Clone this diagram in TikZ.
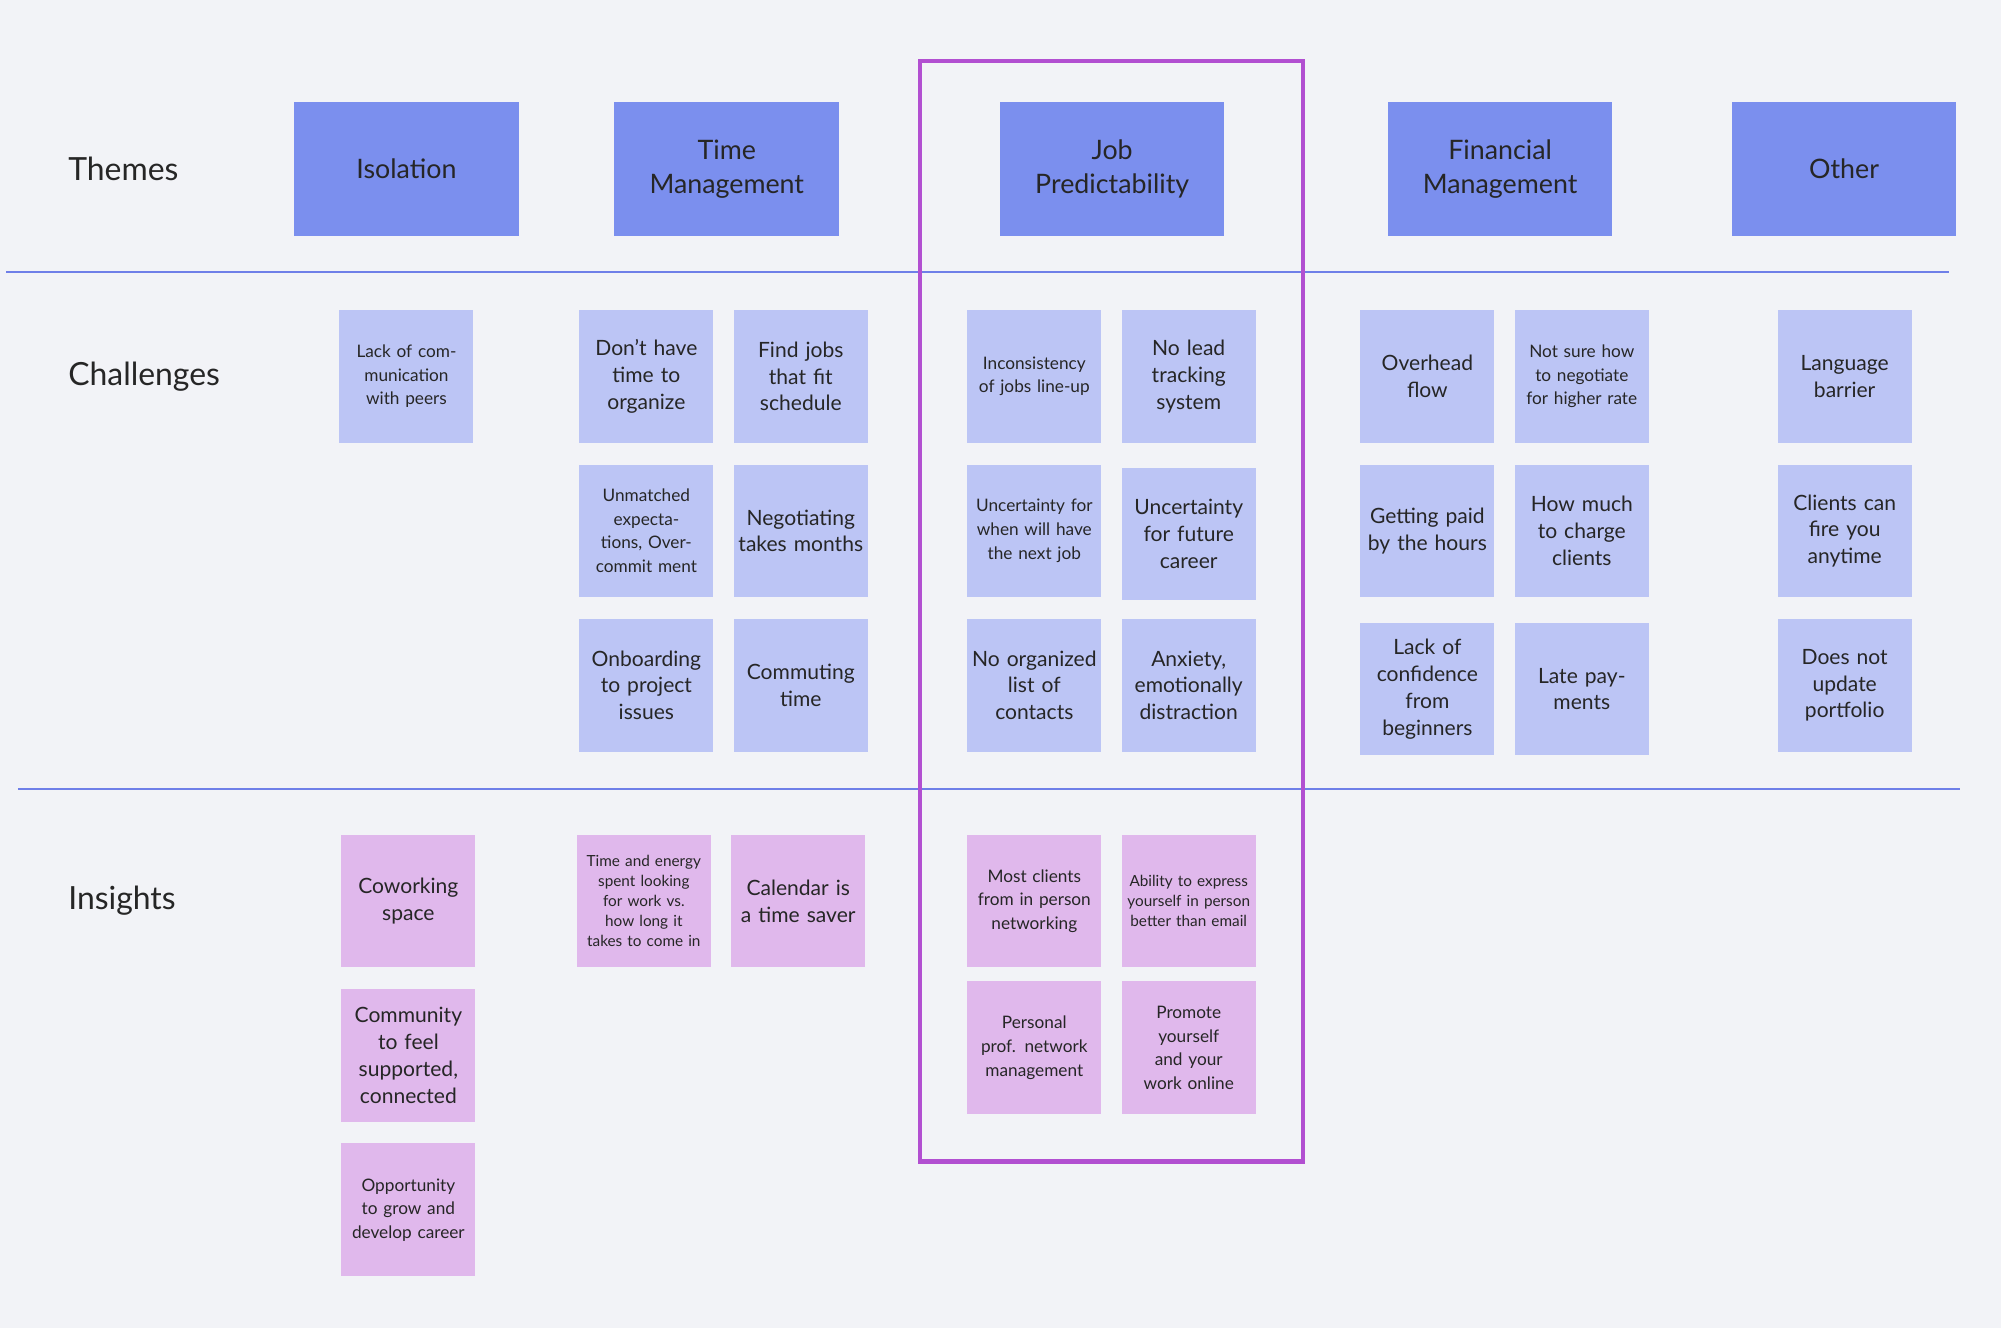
\documentclass[tikz,border=0pt]{standalone}
\usepackage{fontspec}
\setmainfont{Lato}
\definecolor{bg}{HTML}{F2F3F7}
\definecolor{hdr}{HTML}{7B8FEE}
\definecolor{chal}{HTML}{BCC5F5}
\definecolor{ins}{HTML}{E0B8EC}
\definecolor{rule}{HTML}{6F7FE8}
\definecolor{frame}{HTML}{B24FD1}
\tikzset{
 hbox/.style={fill=hdr,minimum width=176pt,minimum height=105pt,align=center,font=\fontsize{21}{27}\selectfont,text=black!85},
 cbox/.style={fill=chal,minimum width=105pt,minimum height=104pt,text width=98pt,inner sep=0pt,align=center,font=\fontsize{16.5}{21}\selectfont,text=black!85},
 ibox/.style={cbox,fill=ins},
 sm/.style={font=\fontsize{13.5}{18.5}\selectfont},
 xs/.style={font=\fontsize{12}{15.5}\selectfont},
 rowlab/.style={anchor=west,font=\fontsize{25}{30}\selectfont,text=black!85},
}
\begin{document}
\begin{tikzpicture}[x=1pt,y=-1pt]
\fill[bg] (0,0) rectangle (1568,1041);
\useasboundingbox (0,0) rectangle (1568,1041);
% rules
\coordinate (r1a) at (5,213); \coordinate (r1b) at (1527,213);
\coordinate (r2a) at (14,618); \coordinate (r2b) at (1536,618);
\draw[rule,line width=1.5pt] (r1a) -- (r1b);
\draw[rule,line width=1.5pt] (r2a) -- (r2b);
% row labels
\node[rowlab] (lt) at (50,132) {Themes};
\node[rowlab] (lc) at (50,295) {Challenges};
\node[rowlab] (li) at (50,706) {Insights};
% headers
\node[hbox] (h1) at (318.5,132.5) {Isolation};
\node[hbox] (h2) at (569.5,132.5) {Time\\Management};
\node[hbox] (h3) at (871.5,132.5) {Job\\Predictability};
\node[hbox] (h4) at (1175.5,132.5) {Financial\\Management};
\node[hbox] (h5) at (1445,132.5) {Other};
% challenges
\node[cbox,sm] (c1) at (318.5,295) {Lack of communication with peers};
\node[cbox] (c2) at (506.5,295) {Don't have time to organize};
\node[cbox] (c3) at (627.5,295) {Find jobs that fit schedule};
\node[cbox,sm] (c4) at (506.5,416) {Unmatched expectations, Over-commit ment};
\node[cbox] (c5) at (627.5,416) {Negotiating takes months};
\node[cbox] (c6) at (506.5,537) {Onboarding to project issues};
\node[cbox] (c7) at (627.5,537) {Commuting time};
\node[cbox,sm] (c8) at (810.5,295) {Inconsistency of jobs line-up};
\node[cbox] (c9) at (931.5,295) {No lead tracking system};
\node[cbox,sm] (c10) at (810.5,416) {Uncertainty for when will have the next job};
\node[cbox] (c11) at (931.5,418.5) {Uncertainty for future career};
\node[cbox] (c12) at (810.5,537) {No organized list of contacts};
\node[cbox] (c13) at (931.5,537) {Anxiety, emotionally distraction};
\node[cbox] (c14) at (1118.5,295) {Overhead flow};
\node[cbox,sm] (c15) at (1239.5,295) {Not sure how to negotiate for higher rate};
\node[cbox] (c16) at (1118.5,416) {Getting paid by the hours};
\node[cbox] (c17) at (1239.5,416) {How much to charge clients};
\node[cbox] (c18) at (1118.5,540) {Lack of confidence from beginners};
\node[cbox] (c19) at (1239.5,540) {Late payments};
\node[cbox] (c20) at (1445.5,295) {Language barrier};
\node[cbox] (c21) at (1445.5,416) {Clients can fire you anytime};
\node[cbox] (c22) at (1445.5,537) {Does not update portfolio};
% insights
\node[ibox] (i1) at (320,706) {Coworking space};
\node[ibox] (i2) at (320,827) {Community to feel supported, connected};
\node[ibox,sm] (i3) at (320,948) {Opportunity to grow and develop career};
\node[ibox,xs] (i4) at (504.5,706) {Time and energy spent looking for work vs. how long it takes to come in};
\node[ibox] (i5) at (625.5,706) {Calendar is a time saver};
\node[ibox,sm] (i6) at (810.5,706) {Most clients from in person networking};
\node[ibox,xs] (i7) at (931.5,706) {Ability to express yourself in person better than email};
\node[ibox,sm] (i8) at (810.5,821) {Personal prof. network management};
\node[ibox,sm] (i9) at (931.5,821) {Promote yourself and your work online};
% highlight frame
\draw[frame,line width=3.5pt] (721,48) rectangle (1021,910);
\end{tikzpicture}
\end{document}
